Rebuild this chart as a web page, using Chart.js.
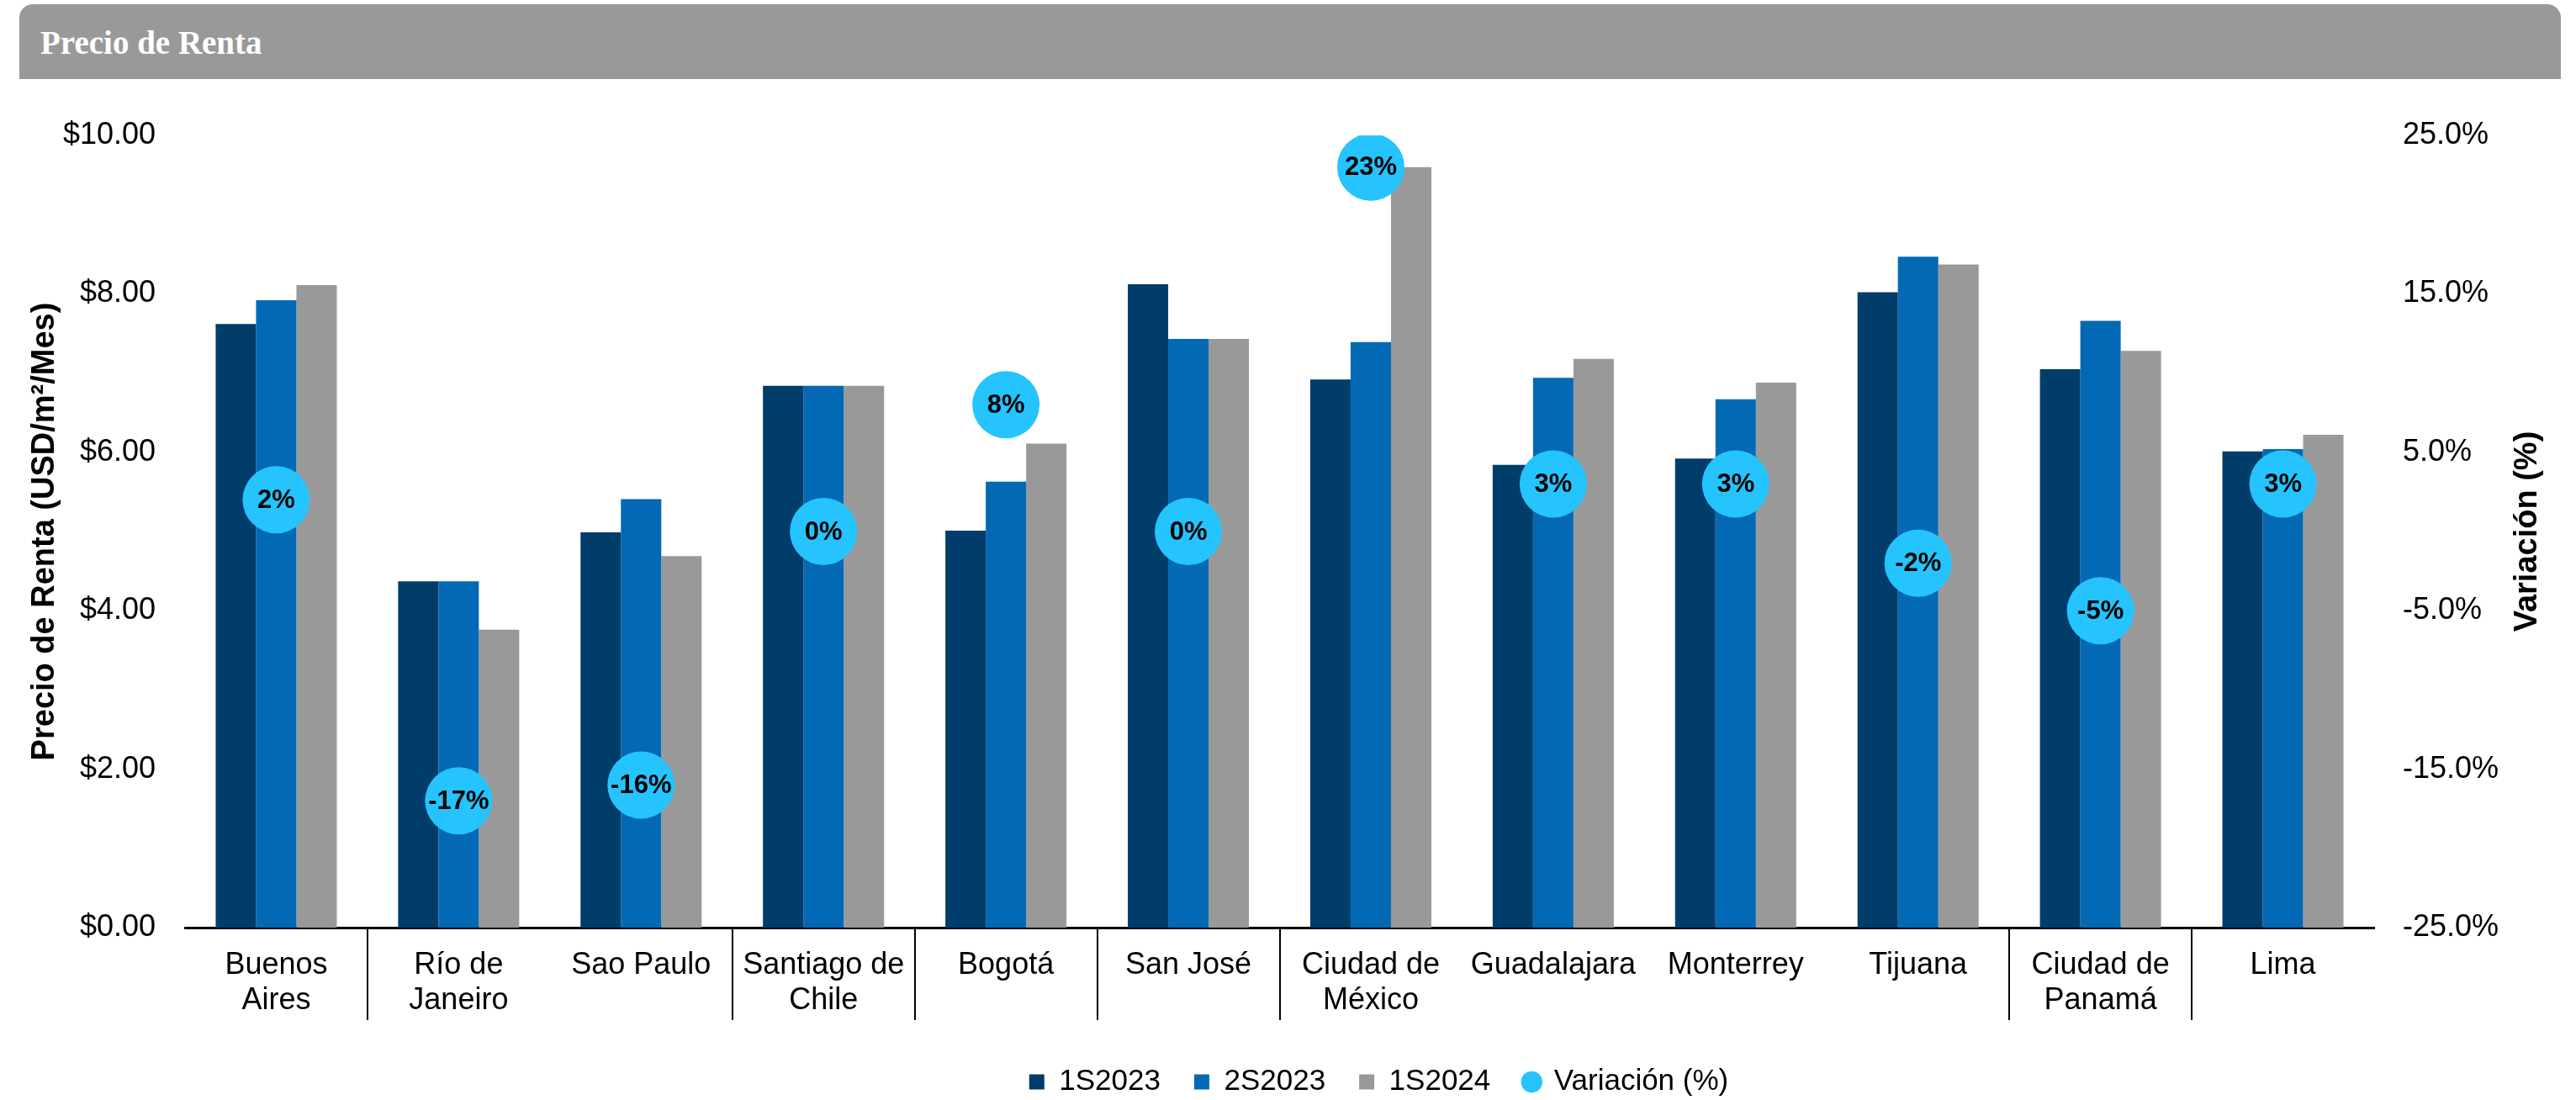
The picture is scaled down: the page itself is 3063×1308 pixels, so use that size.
<!DOCTYPE html>
<html lang="es">
<head>
<meta charset="utf-8">
<title>Precio de Renta</title>
<script src="https://cdn.jsdelivr.net/npm/chart.js@4.4.1/dist/chart.umd.min.js"></script>
<style>
    body {
        margin: 0;
        background: #ffffff;
        width: 3063px;
        height: 1308px;
        position: relative;
        overflow: hidden;
    }
    #rentChart {
        position: absolute;
        left: 0;
        top: 0;
    }
    #header {
        position: absolute;
        left: 23px;
        top: 5px;
        width: 3022px;
        height: 89px;
        padding-left: 25px;
        box-sizing: border-box;
        background: #999999;
        border-radius: 16px 16px 0 0;
        color: #ffffff;
        font: bold 39px "Liberation Serif", "Times New Roman", serif;
        line-height: 92px;
    }
</style>
</head>
<body>
<canvas id="rentChart" width="3063" height="1308"></canvas>
<div id="header">Precio de Renta</div>
<script>
"use strict";

const ciudades = [
    ["Buenos", "Aires"],
    ["Río de", "Janeiro"],
    "Sao Paulo",
    ["Santiago de", "Chile"],
    "Bogotá",
    "San José",
    ["Ciudad de", "México"],
    "Guadalajara",
    "Monterrey",
    "Tijuana",
    ["Ciudad de", "Panamá"],
    "Lima",
];

// USD/m²/mes
const renta1S2023 = [7.62, 4.37, 4.99, 6.84, 5.01, 8.12, 6.92, 5.84, 5.92, 8.02, 7.05, 6.01];
const renta2S2023 = [7.92, 4.37, 5.41, 6.84, 5.63, 7.43, 7.39, 6.94, 6.67, 8.47, 7.66, 6.04];
const renta1S2024 = [8.11, 3.76, 4.69, 6.84, 6.11, 7.43, 9.60, 7.18, 6.88, 8.37, 7.28, 6.22];

// variación en %
const variacion = [2, -17, -16, 0, 8, 0, 23, 3, 3, -2, -5, 3];

const rentaTicks = { min: 0, max: 10, step: 2 };
const variacionTicks = { min: -25, max: 25, step: 10 };

// separadores por país bajo el eje (índice = borde izquierdo de la categoría)
const separadores = [1, 3, 4, 5, 6, 10, 11];

const fontFamily = "'Liberation Sans', Arial, sans-serif";
Chart.defaults.font.family = fontFamily;
Chart.defaults.color = "#000000";

// etiquetas dentro de los círculos
const circleLabels = {
    id: "circleLabels",
    afterDatasetsDraw(chart) {
        const meta = chart.getDatasetMeta(3);
        const ctx = chart.ctx;
        ctx.save();
        ctx.font = "bold 31px " + fontFamily;
        ctx.fillStyle = "#000000";
        ctx.textAlign = "center";
        ctx.textBaseline = "middle";
        meta.data.forEach((pt, i) => {
            ctx.fillText(variacion[i] + "%", pt.x, pt.y + 1);
        });
        ctx.restore();
    },
};

// títulos de los ejes, ambos leídos de abajo hacia arriba
const axisTitles = {
    id: "axisTitles",
    afterDraw(chart) {
        const ctx = chart.ctx;
        const area = chart.chartArea;
        const midY = (area.top + area.bottom) / 2;
        const drawVertical = (text, x) => {
            ctx.save();
            ctx.translate(x, midY);
            ctx.rotate(-Math.PI / 2);
            ctx.fillText(text, 0, 0);
            ctx.restore();
        };
        ctx.save();
        ctx.font = "bold 38px " + fontFamily;
        ctx.fillStyle = "#000000";
        ctx.textAlign = "center";
        ctx.textBaseline = "middle";
        drawVertical("Precio de Renta (USD/m²/Mes)", chart.scales.y.left + 54);
        drawVertical("Variación (%)", chart.scales.y1.right - 57);
        ctx.restore();
    },
};

// corre la leyenda un poco a la derecha y abajo
const legendShift = {
    id: "legendShift",
    afterUpdate(chart) {
        const lg = chart.legend;
        lg.left += 108;
        lg.right += 108;
        lg.top += 6;
        lg.bottom += 6;
    },
};

const data = {
    labels: ciudades,
    datasets: [
        {
            label: "1S2023",
            data: renta1S2023,
            backgroundColor: "#003D6B",
            borderWidth: 0,
            pointStyle: "rect",
            yAxisID: "y",
            order: 1,
        },
        {
            label: "2S2023",
            data: renta2S2023,
            backgroundColor: "#0469B4",
            borderWidth: 0,
            pointStyle: "rect",
            yAxisID: "y",
            order: 1,
        },
        {
            label: "1S2024",
            data: renta1S2024,
            backgroundColor: "#999999",
            borderWidth: 0,
            pointStyle: "rect",
            yAxisID: "y",
            order: 1,
        },
        {
            type: "line",
            label: "Variación (%)",
            data: variacion,
            showLine: false,
            pointStyle: "circle",
            pointRadius: 40,
            pointHoverRadius: 40,
            pointBackgroundColor: "#25C4FF",
            pointBorderWidth: 0,
            borderColor: "#25C4FF",
            backgroundColor: "#25C4FF",
            yAxisID: "y1",
            order: 0,
        },
    ],
};

const config = {
    type: "bar",
    data: data,
    options: {
        responsive: false,
        animation: false,
        categoryPercentage: 0.664,
        barPercentage: 1.0,
        layout: {
            padding: { top: 161, left: 0, right: 0, bottom: 0 },
        },
        plugins: {
            tooltip: { enabled: false },
            legend: {
                position: "bottom",
                labels: {
                    usePointStyle: true,
                    boxWidth: 18,
                    boxHeight: 18,
                    padding: 40,
                    color: "#000000",
                    font: { size: 35 },
                    sort: (a, b) => a.datasetIndex - b.datasetIndex,
                },
            },
        },
        scales: {
            x: {
                offset: true,
                grid: {
                    display: true,
                    offset: true,
                    drawOnChartArea: false,
                    drawTicks: true,
                    tickLength: 110,
                    lineWidth: 2,
                    color: (c) => (separadores.includes(c.index) ? "#000000" : "rgba(0,0,0,0)"),
                },
                border: { display: true, color: "#000000", width: 3 },
                ticks: {
                    autoSkip: false,
                    maxRotation: 0,
                    padding: -86,
                    font: { size: 36, lineHeight: 1.17 },
                },
                afterFit: (scale) => {
                    scale.height = 120;
                },
            },
            y: {
                position: "left",
                min: rentaTicks.min,
                max: rentaTicks.max,
                grid: { display: false, drawTicks: false },
                border: { display: false },
                ticks: {
                    stepSize: rentaTicks.step,
                    padding: 35,
                    font: { size: 36 },
                    callback: (v) => "$" + v.toFixed(2),
                },
                afterFit: (scale) => {
                    scale.width = 220;
                },
            },
            y1: {
                position: "right",
                min: variacionTicks.min,
                max: variacionTicks.max,
                grid: { display: false, drawTicks: false },
                border: { display: false },
                ticks: {
                    stepSize: variacionTicks.step,
                    padding: 34,
                    font: { size: 36 },
                    callback: (v) => v.toFixed(1) + "%",
                },
                afterFit: (scale) => {
                    scale.width = 240;
                },
            },
        },
    },
    plugins: [circleLabels, axisTitles, legendShift],
};

new Chart(document.getElementById("rentChart"), config);
</script>
</body>
</html>
